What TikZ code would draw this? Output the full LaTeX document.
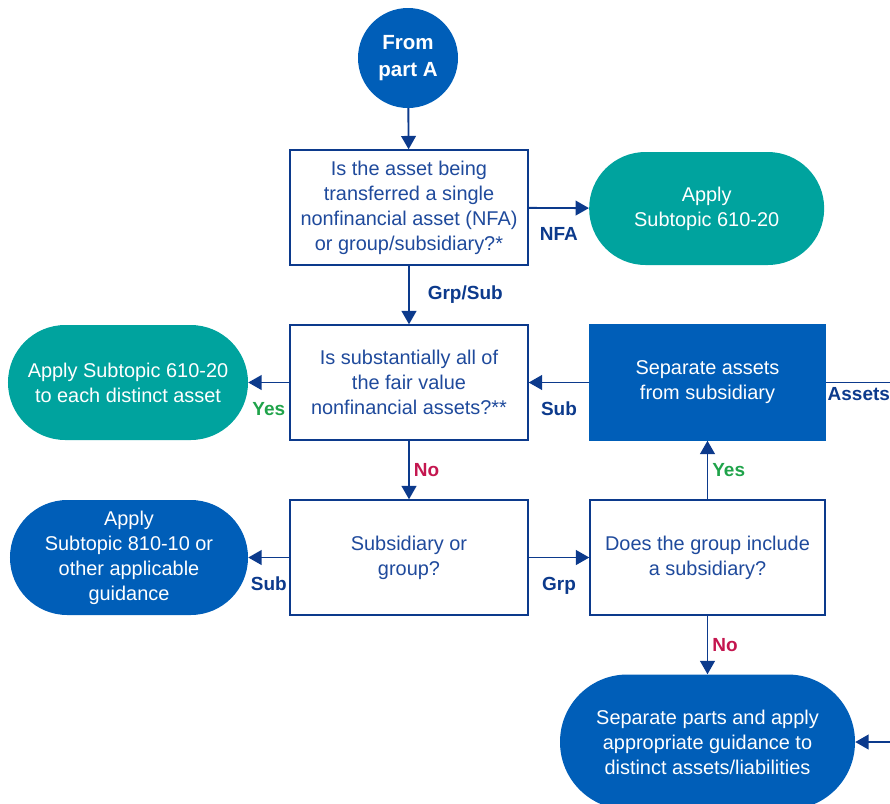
\documentclass[tikz,border=0pt]{standalone}
\usepackage{fontspec}
\setmainfont{Liberation Sans}
\usetikzlibrary{arrows.meta}
\definecolor{navy}{HTML}{0C3A8C}
\definecolor{boxtext}{HTML}{1F4A9C}
\definecolor{kblue}{HTML}{005EB8}
\definecolor{kteal}{HTML}{00A39E}
\definecolor{kgreen}{HTML}{1FA34A}
\definecolor{kred}{HTML}{C4164F}
\begin{document}
\begin{tikzpicture}[
  box/.style={draw=navy,line width=1.2pt,fill=white,text=boxtext,minimum width=7.14cm,minimum height=3.45cm,align=center,font=\fontsize{17}{21.3}\selectfont},
  pill/.style={fill=#1,text=white,rounded corners=1.69cm,minimum width=7.05cm,minimum height=3.39cm,align=center,font=\fontsize{17}{21.3}\selectfont},
  flow/.style={draw=navy,line width=1.6pt,-{Triangle[length=0.4cm,width=0.44cm]}},
  lbl/.style={font=\bfseries\fontsize{16.2}{19}\selectfont,text=#1},
  lbl/.default=navy
]
\useasboundingbox (0,0) rectangle (26.7,-24.09);
\node[circle,fill=kblue,text=white,minimum size=3cm,align=center,font=\bfseries\fontsize{17.5}{23.5}\selectfont] (start) at (12.24,-1.74) {From\\part A};
\node[box] (q1) at (12.27,-6.225) {Is the asset being\\transferred a single\\nonfinancial asset (NFA)\\or group/subsidiary?*};
\node[pill=kteal] (app1) at (21.2,-6.255) {Apply\\Subtopic 610-20};
\node[box] (q2) at (12.27,-11.475) {Is substantially all of\\the fair value\\nonfinancial assets?**};
\node[pill=kteal,minimum width=7.2cm,minimum height=3.45cm,rounded corners=1.72cm] (app2) at (3.84,-11.475) {Apply Subtopic 610-20\\to each distinct asset};
\node[box,draw=kblue,fill=kblue,text=white,minimum width=7.05cm] (sep) at (21.225,-11.475) {Separate assets\\from subsidiary};
\node[box] (q3) at (12.27,-16.725) {Subsidiary or\\group?};
\node[pill=kblue,minimum width=7.14cm,minimum height=3.45cm,rounded corners=1.72cm] (app3) at (3.87,-16.725) {Apply\\Subtopic 810-10 or\\other applicable\\guidance};
\node[box,minimum width=7.05cm] (q4) at (21.225,-16.725) {Does the group include\\a subsidiary?};
\node[pill=kblue,minimum width=8.85cm,minimum height=4.05cm,rounded corners=2.02cm] (app4) at (21.225,-22.26) {Separate parts and apply\\appropriate guidance to\\distinct assets/liabilities};
\coordinate (assetsout) at (27,-11.475);
\coordinate (app4in) at (27,-22.26);

\draw[flow] (start) -- (q1);
\draw[flow] (q1) -- (app1) node[lbl,midway,below=0.44cm] {NFA};
\draw[flow] (q1) -- (q2) node[lbl,midway,right=0.42cm] {Grp/Sub};
\draw[flow] (q2) -- (app2) node[lbl=kgreen,midway,below=0.44cm] {Yes};
\draw[flow] (sep) -- (q2) node[lbl,midway,below=0.44cm] {Sub};
\draw[draw=navy,line width=1.6pt] (sep) -- (assetsout) node[lbl,pos=0.5,below=0cm,xshift=-0.12cm,inner xsep=0pt] {Assets};
\draw[flow] (q2) -- (q3) node[lbl=kred,midway,right=0cm] {No};
\draw[flow] (q3) -- (app3) node[lbl,midway,below=0.44cm] {Sub};
\draw[flow] (q3) -- (q4) node[lbl,midway,below=0.44cm] {Grp};
\draw[flow] (q4) -- (sep) node[lbl=kgreen,midway,right=0cm] {Yes};
\draw[flow] (q4) -- (app4) node[lbl=kred,midway,right=0cm] {No};
\draw[flow] (app4in) -- (app4);
\end{tikzpicture}
\end{document}
